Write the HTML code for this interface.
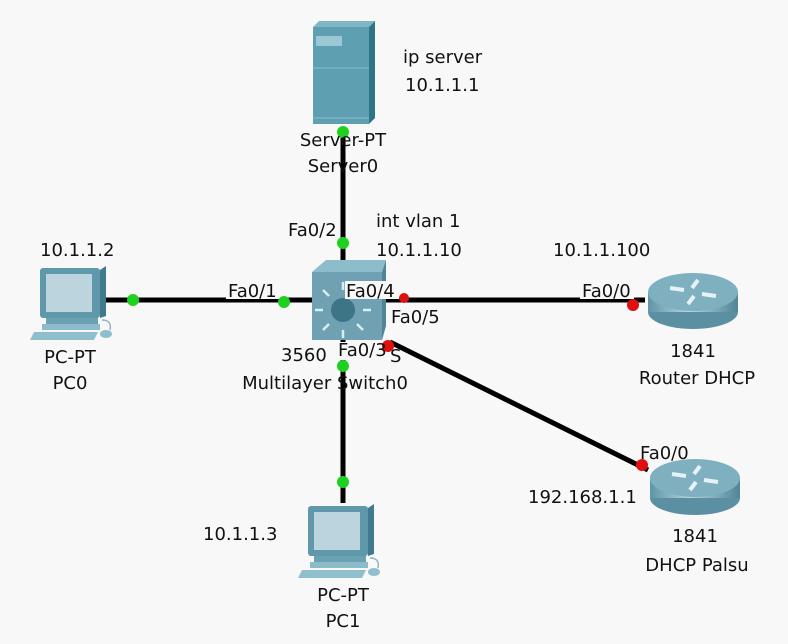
<!DOCTYPE html>
<html><head><meta charset="utf-8"><style>
html,body{margin:0;padding:0;background:#f8f8f8;}
svg{display:block;}
text{font-family:"DejaVu Sans","Liberation Sans",sans-serif;font-size:18px;fill:#111;}
</style></head><body>
<svg width="788" height="644" viewBox="0 0 788 644" xmlns="http://www.w3.org/2000/svg">
<defs>
<linearGradient id="rg" x1="0" y1="0" x2="1" y2="0">
<stop offset="0" stop-color="#5f95a6"/><stop offset="0.45" stop-color="#b5d6df"/><stop offset="1" stop-color="#4f8596"/>
</linearGradient>
<g id="pc">
<rect x="10" y="0" width="60" height="50" rx="3" fill="#5f97ab"/>
<rect x="16" y="6" width="46" height="38" fill="#bcd4de"/>
<path d="M70 2 l6 -4 v50 l-6 2z" fill="#3f7a8f"/>
<rect x="16" y="50" width="52" height="6" fill="#6aa2b4"/>
<rect x="12" y="56" width="58" height="6" fill="#8cbccb"/>
<path d="M4 64 h64 l-4 8 h-64z" fill="#8fbfcd"/>
<path d="M72 52 q10 0 8 10" stroke="#8fb4c0" fill="none" stroke-width="1.5"/>
<ellipse cx="76" cy="66" rx="6" ry="4" fill="#8fbfcd"/>
</g>
<g id="router">
<ellipse cx="45" cy="40" rx="45" ry="17" fill="#5a90a1"/>
<rect x="0" y="20" width="90" height="20" fill="url(#rg)"/>
<ellipse cx="45" cy="20" rx="45" ry="19" fill="#7fb0c0"/>
<path d="M22 16 l14 2 M68 24 l-14 -2 M40 32 l6 -8 M50 8 l-6 8" stroke="#e6f2f6" stroke-width="4" fill="none"/>
</g>
</defs>
<rect width="788" height="644" fill="#f8f8f8"/>
<line x1="343" y1="128" x2="343" y2="503" stroke="#000" stroke-width="5"/>
<line x1="102" y1="300" x2="645" y2="300" stroke="#000" stroke-width="5"/>
<line x1="390" y1="342" x2="648" y2="470" stroke="#000" stroke-width="5"/>
<rect x="313" y="27" width="56" height="97" fill="#5e9fb2"/>
<path d="M313 27 l6 -6 h56 l-6 6z" fill="#7fb6c6"/>
<path d="M369 27 l6 -6 v97 l-6 6z" fill="#2f7488"/>
<rect x="316" y="36" width="26" height="10" fill="#9cc8d6"/>
<line x1="313" y1="68" x2="369" y2="68" stroke="#8cbccb" stroke-width="1"/>
<line x1="313" y1="118" x2="369" y2="118" stroke="#8cbccb" stroke-width="1"/>
<rect x="312" y="272" width="70" height="68" fill="#6fa1b2"/>
<path d="M312 272 l14 -12 h60 l-4 12z" fill="#8dbccb"/>
<path d="M382 272 l4 -12 v66 l-4 14z" fill="#4c8697"/>
<circle cx="343" cy="310" r="12" fill="#3d7486"/>
<g stroke="#d8edf4" stroke-width="2.5">
<line x1="343" y1="290" x2="343" y2="282"/><line x1="343" y1="330" x2="343" y2="338"/>
<line x1="323" y1="310" x2="315" y2="310"/><line x1="363" y1="310" x2="371" y2="310"/>
<line x1="329" y1="296" x2="323" y2="290"/><line x1="357" y1="324" x2="363" y2="330"/>
<line x1="329" y1="324" x2="323" y2="330"/><line x1="357" y1="296" x2="363" y2="290"/>
</g>
<use href="#pc" x="30" y="268"/>
<use href="#pc" x="298" y="506"/>
<use href="#router" x="648" y="272"/>
<use href="#router" x="650" y="458"/>
<rect x="226" y="281" width="54" height="18" fill="#f8f8f8"/>
<rect x="345" y="281" width="54" height="18" fill="#f8f8f8"/>
<rect x="580" y="281" width="54" height="18" fill="#f8f8f8"/>
<rect x="337" y="342" width="48" height="18" fill="#f8f8f8"/>
<g fill="#1fd11f">
<circle cx="343" cy="132" r="6"/><circle cx="343" cy="243" r="6"/>
<circle cx="133" cy="300" r="6"/><circle cx="284" cy="302" r="6"/>
<circle cx="343" cy="366" r="6"/><circle cx="343" cy="482" r="6"/>
</g>
<g fill="#e01010">
<circle cx="404" cy="298" r="5"/><circle cx="633" cy="305" r="6"/>
<circle cx="388" cy="346" r="6"/><circle cx="642" cy="465" r="6"/>
</g>
<text x="343" y="146" text-anchor="middle">Server-PT</text>
<text x="343" y="172" text-anchor="middle">Server0</text>
<text x="403" y="63">ip server</text>
<text x="405" y="91">10.1.1.1</text>
<text x="288" y="236">Fa0/2</text>
<text x="376" y="227">int vlan 1</text>
<text x="376" y="256">10.1.1.10</text>
<text x="553" y="256">10.1.1.100</text>
<text x="40" y="256">10.1.1.2</text>
<text x="228" y="297">Fa0/1</text>
<text x="346" y="297">Fa0/4</text>
<text x="582" y="297">Fa0/0</text>
<text x="391" y="323">Fa0/5</text>
<text x="281" y="361">3560</text>
<text x="338" y="356">Fa0/3</text>
<text x="390" y="362">S</text>
<text x="325" y="389" text-anchor="middle">Multilayer Switch0</text>
<text x="70" y="363" text-anchor="middle">PC-PT</text>
<text x="70" y="389" text-anchor="middle">PC0</text>
<text x="693" y="357" text-anchor="middle">1841</text>
<text x="697" y="384" text-anchor="middle">Router DHCP</text>
<text x="640" y="459">Fa0/0</text>
<text x="528" y="503">192.168.1.1</text>
<text x="695" y="542" text-anchor="middle">1841</text>
<text x="697" y="571" text-anchor="middle">DHCP Palsu</text>
<text x="203" y="540">10.1.1.3</text>
<text x="343" y="601" text-anchor="middle">PC-PT</text>
<text x="343" y="627" text-anchor="middle">PC1</text>
</svg>
</body></html>
